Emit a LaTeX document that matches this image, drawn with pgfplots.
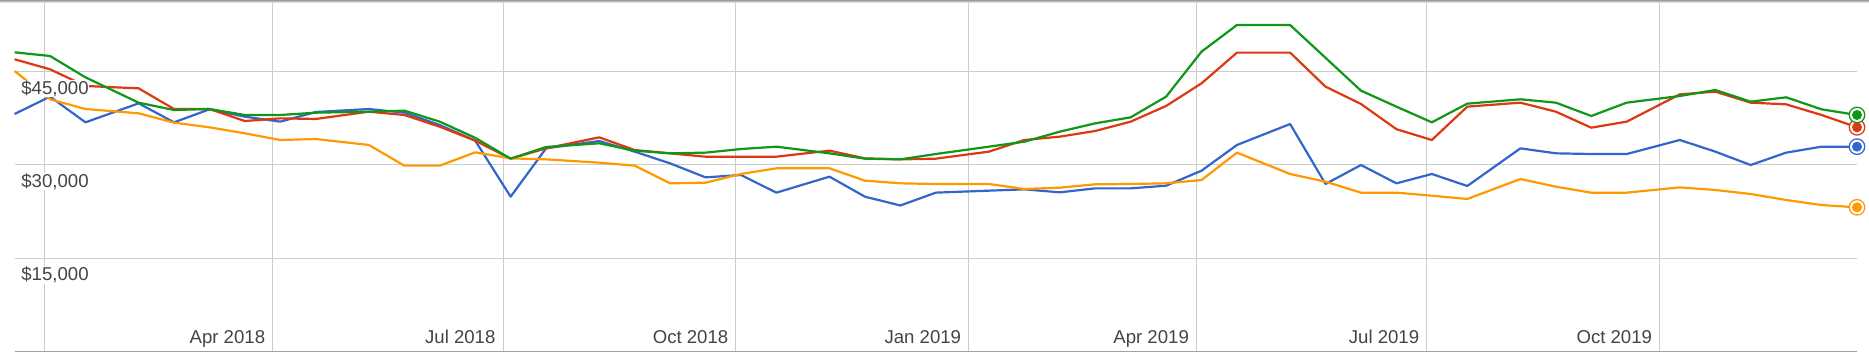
\documentclass[border=0pt]{standalone}
\usepackage{pgfplots}
\pgfplotsset{compat=1.18}
\usepackage{pgfplotstable}
\usepackage{fontspec}
\setmainfont{Liberation Sans}
\definecolor{gblue}{HTML}{3366CC}
\definecolor{gred}{HTML}{DC3912}
\definecolor{gorange}{HTML}{FF9900}
\definecolor{ggreen}{HTML}{109618}
\definecolor{gridc}{HTML}{CCCCCC}
\definecolor{axisc}{HTML}{A0A0A0}
\definecolor{txt}{HTML}{444444}
\pgfdeclareplotmark{ringdot}{%
  \pgfpathcircle{\pgfpointorigin}{4.2pt}\pgfusepathqfill
  \begin{pgfscope}\pgfsetfillcolor{white}\pgfpathcircle{\pgfpointorigin}{3.5pt}\pgfusepathqfill\end{pgfscope}
  \pgfpathcircle{\pgfpointorigin}{2.5pt}\pgfusepathqfill}

% x = days since 1 Jan 2018
\pgfplotstableread{
day val
-12 38180
2 40970
16 36840
37 39890
51 36840
65 38930
79 37750
93 36950
107 38500
128 38980
142 38390
156 36410
170 33900
184 24890
198 32660
219 33840
233 32130
247 30250
261 28000
275 28380
289 25540
310 28110
324 24890
338 23480
352 25540
373 25860
387 26070
401 25590
415 26230
429 26230
443 26660
457 29070
471 33200
492 36570
506 26930
520 29980
534 27040
548 28540
562 26610
583 32660
597 31860
611 31750
625 31750
646 34000
660 32130
674 29980
688 31970
702 32930
716 32930
}\blueT
\pgfplotstableread{
day val
-12 46970
2 45360
16 42680
37 42300
51 38980
65 38980
79 37050
93 37480
107 37380
128 38550
142 38020
156 36140
170 33890
184 31000
198 32660
219 34430
233 32390
261 31320
275 31320
289 31320
310 32290
324 31050
338 30890
352 31000
373 32130
387 34000
401 34540
415 35450
429 36950
443 39470
457 43110
471 48040
492 48040
506 42570
520 39790
534 35740
548 34000
562 39360
583 40000
597 38550
611 35980
625 36950
646 41340
660 41770
674 40000
688 39730
702 38020
716 36040
}\redT
\pgfplotstableread{
day val
-12 45090
2 40540
16 38980
37 38290
51 36790
65 36040
79 35070
93 34000
107 34160
128 33200
142 29880
156 29880
170 32020
184 31050
198 30890
219 30360
233 29880
247 27040
261 27140
275 28540
289 29450
310 29450
324 27470
338 27040
352 26930
373 26930
387 26130
401 26340
415 26880
429 26930
443 27040
457 27570
471 31970
492 28540
506 27300
520 25540
534 25540
548 25050
562 24520
583 27730
597 26500
611 25540
625 25540
646 26390
660 25970
674 25320
688 24360
702 23550
716 23180
}\orangeT
\pgfplotstableread{
day val
-12 48090
2 47500
16 44070
37 40000
51 38820
65 38980
79 38020
93 38020
107 38390
128 38550
142 38720
156 36950
170 34350
184 31000
198 32880
219 33470
233 32290
247 31860
261 31970
275 32550
289 32930
310 31860
324 31000
338 30890
352 31750
373 32930
387 33730
401 35340
415 36680
429 37640
443 40970
457 48200
471 52480
492 52480
520 41930
534 39360
548 36840
562 39840
583 40540
597 40000
611 37860
625 40000
646 41070
660 42040
674 40160
688 40860
702 38930
716 38020
}\greenT

\begin{document}
\begin{tikzpicture}[
  ylab/.style={anchor=base west, xshift=2.9pt, yshift=-11.3pt, fill=white, inner sep=0.3pt, text=txt, font=\fontsize{9.3}{11}\selectfont},
  xlab/.style={anchor=base east, xshift=-3.6pt, yshift=4.2pt, inner sep=0pt, text=txt, font=\fontsize{9.3}{11}\selectfont},
]
\begin{axis}[
  scale only axis, width=921.2pt, height=175.8pt,
  xmin=-12, xmax=716, ymin=0, ymax=56500,
  clip=false,
  axis line style={draw=none},
  tick style={draw=none},
  major tick length=0pt,
  xtick={0,90,181,273,365,455,546,638}, xticklabels={},
  ytick={15000,30000,45000}, yticklabels={},
  grid=major, major grid style={draw=gridc, line width=0.5pt},
  every axis plot/.append style={line width=1.1pt, line join=round},
]
\draw[color=axisc, line width=0.5pt] (axis cs:-12,0) -- (axis cs:716,0);
\addplot[gblue, no marks] table[x=day, y=val] {\blueT};
\addplot[gred, no marks] table[x=day, y=val] {\redT};
\addplot[gorange, no marks] table[x=day, y=val] {\orangeT};
\addplot[ggreen, no marks] table[x=day, y=val] {\greenT};
\addplot[only marks, mark=ringdot, color=gblue, mark options={fill=gblue}, forget plot] coordinates {(716,32930)};
\addplot[only marks, mark=ringdot, color=gred, mark options={fill=gred}, forget plot] coordinates {(716,36040)};
\addplot[only marks, mark=ringdot, color=gorange, mark options={fill=gorange}, forget plot] coordinates {(716,23180)};
\addplot[only marks, mark=ringdot, color=ggreen, mark options={fill=ggreen}, forget plot] coordinates {(716,38020)};
\node[ylab] at (axis cs:-12,45000) {\$45,000};
\node[ylab] at (axis cs:-12,30000) {\$30,000};
\node[ylab] at (axis cs:-12,15000) {\$15,000};
\node[xlab] at (axis cs:90,0) {Apr 2018};
\node[xlab] at (axis cs:181,0) {Jul 2018};
\node[xlab] at (axis cs:273,0) {Oct 2018};
\node[xlab] at (axis cs:365,0) {Jan 2019};
\node[xlab] at (axis cs:455,0) {Apr 2019};
\node[xlab] at (axis cs:546,0) {Jul 2019};
\node[xlab] at (axis cs:638,0) {Oct 2019};
\end{axis}
\pgfresetboundingbox
\path (-7.3pt,-0.2pt) rectangle (927.2pt,175.8pt);
\fill[color=black!14] (-7.3pt,174.3pt) rectangle (927.2pt,174.8pt);
\fill[color=black!25] (-7.3pt,174.8pt) rectangle (927.2pt,175.3pt);
\fill[color=black!40] (-7.3pt,175.3pt) rectangle (927.2pt,175.8pt);
\end{tikzpicture}
\end{document}
